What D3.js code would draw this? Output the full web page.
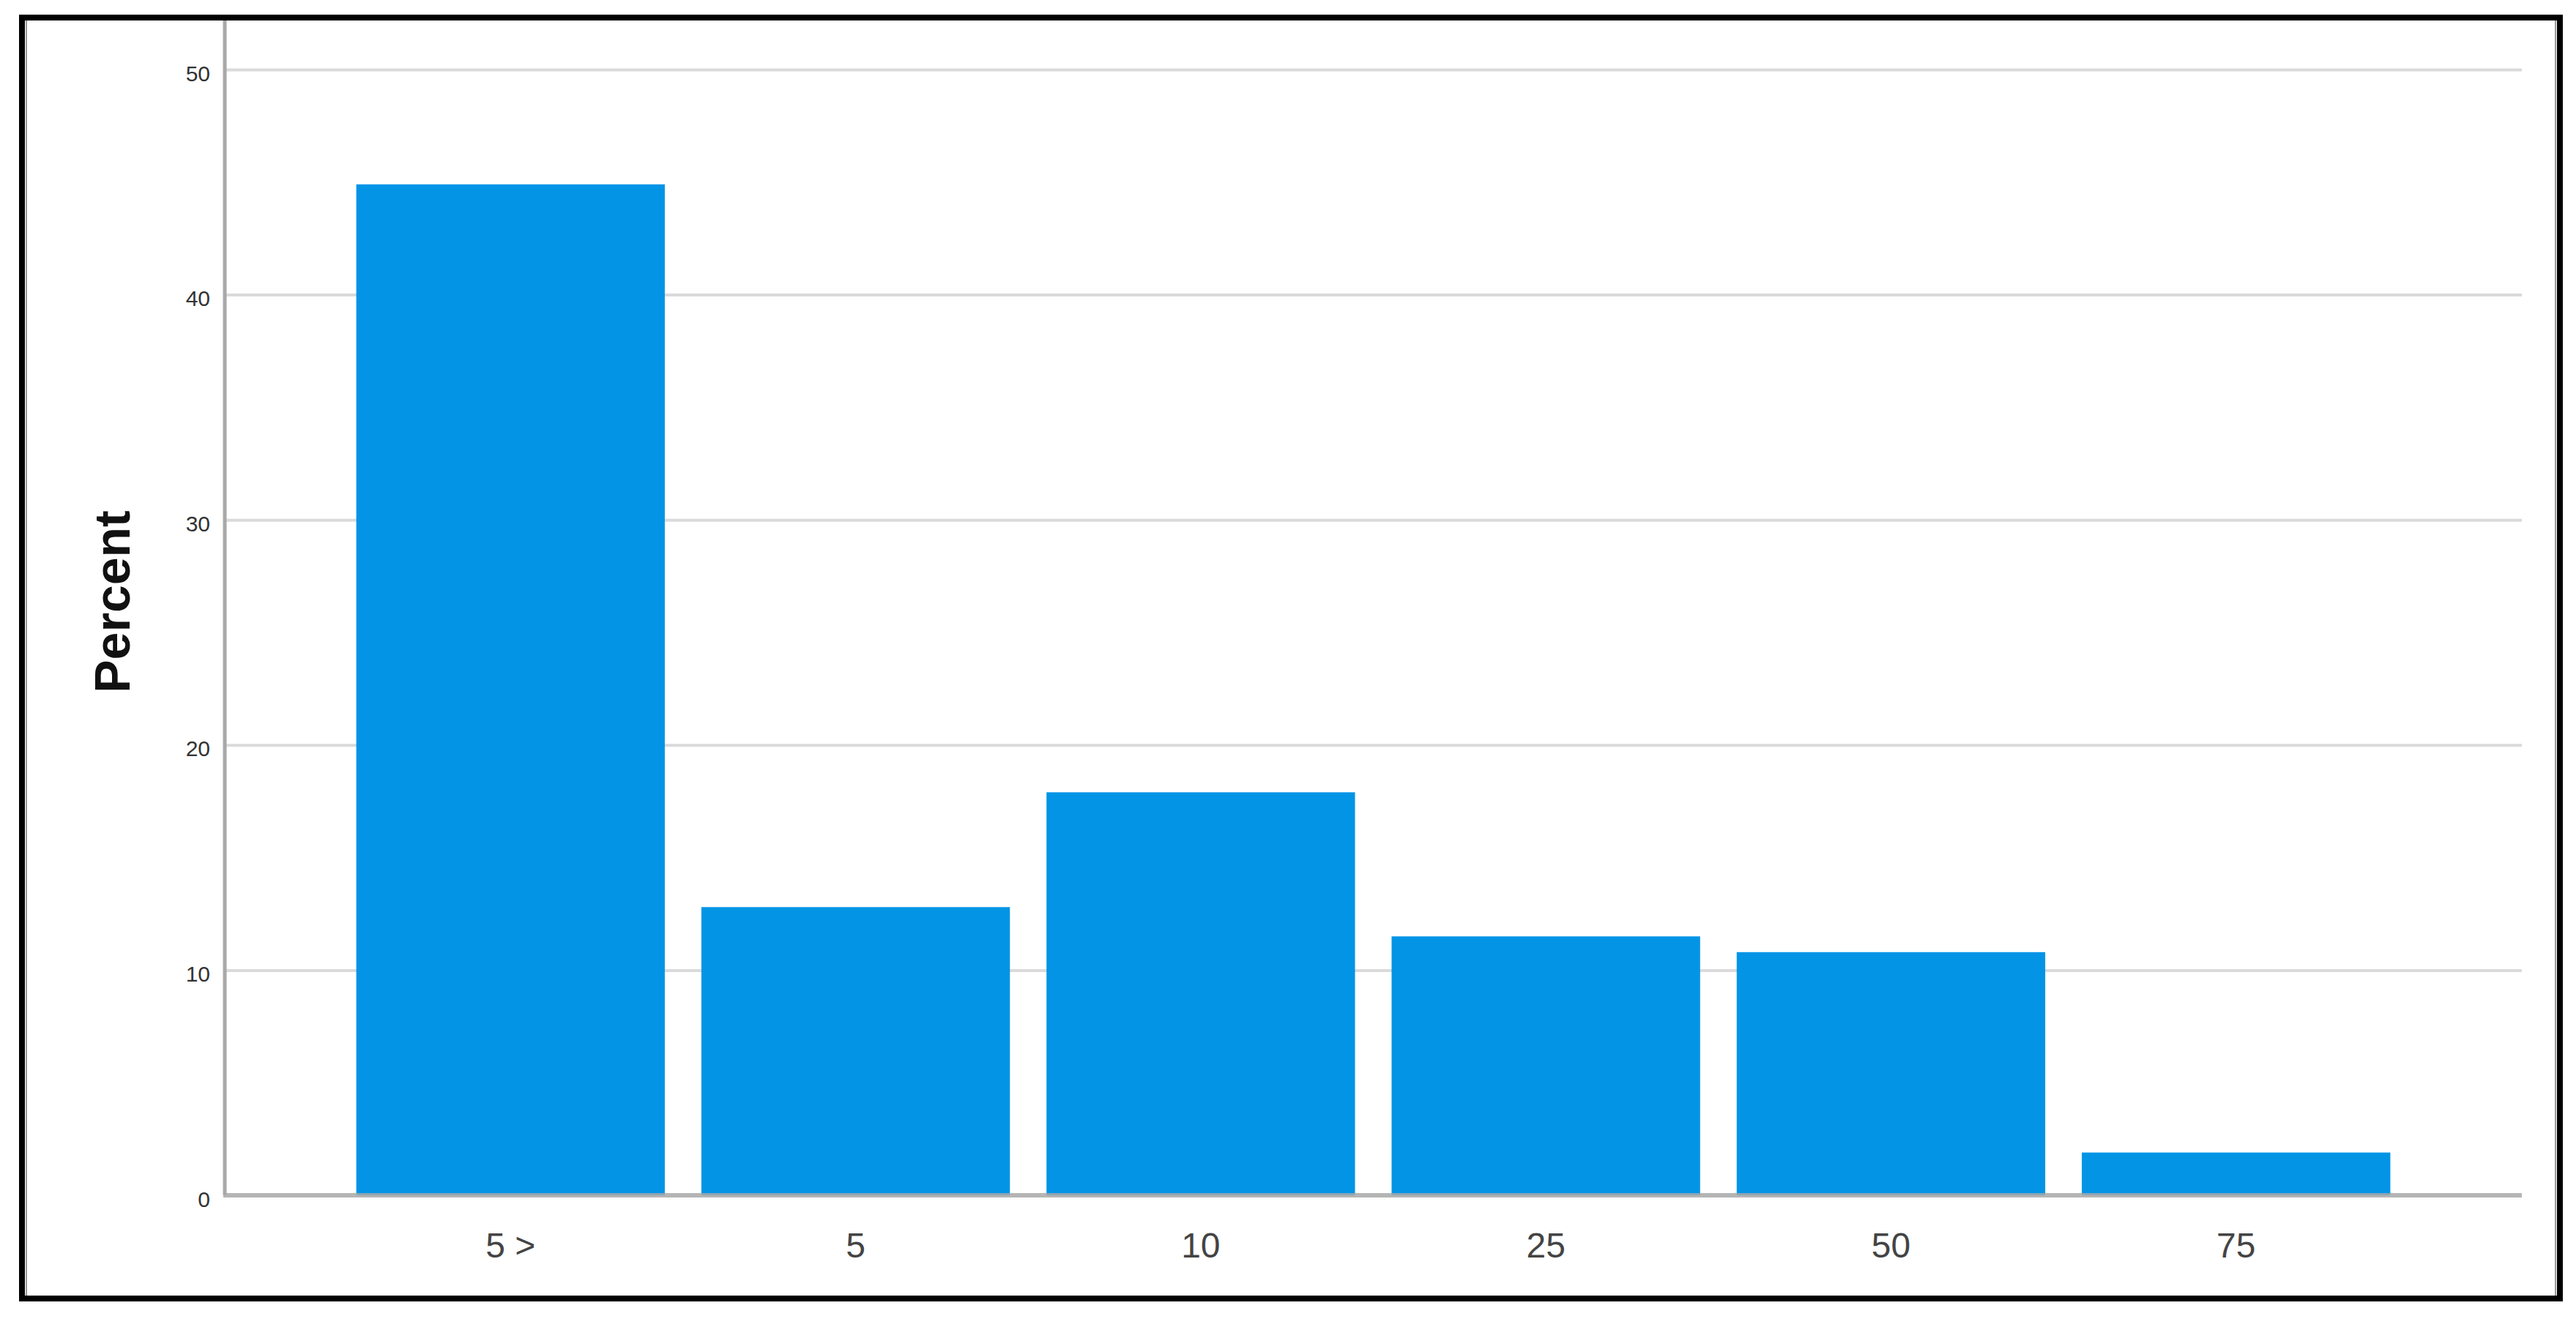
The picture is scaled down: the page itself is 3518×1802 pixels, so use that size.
<!DOCTYPE html>
<html lang="en">
<head>
    <meta charset="UTF-8">
    <title>percent-bars</title>
    <style>
        body {
            margin: 0;
            background: #fff;
        }
        text {
            font-family: "Liberation Sans", Arial, sans-serif;
        }
    </style>
    <script src="https://cdn.jsdelivr.net/npm/d3@7"></script>
</head>
<body>

<script>

    // values
    let categories = ["5 >", "5", "10", "25", "50", "75"];
    let percents = [44.9, 12.8, 17.9, 11.5, 10.8, 1.9];
    let yTicks = [0, 10, 20, 30, 40, 50];
    let yTitle = "Percent";

    let width = 3518;
    let height = 1802;
    let plotLeft = 307, plotRight = 3444, plotTop = 95, plotBottom = 1633;
    let frameTop = 27;

    let barColor = "#0394e6";
    let gridColor = "#dadada";
    let axisColor = "#a8a8a8";

    let svg = d3.select("body").append("svg")
        .attr("width", width)
        .attr("height", height);

    svg.append("rect")
        .attr("width", width)
        .attr("height", height)
        .attr("fill", "#fff");

    let x = d3.scaleBand()
        .domain(categories)
        .range([plotLeft, plotRight])
        .paddingInner(0.106)
        .paddingOuter(0.381);

    let y = d3.scaleLinear()
        .domain([0, 50])
        .range([plotBottom, plotTop]);

    // gridlines behind the bars
    svg.append("g")
        .attr("transform", "translate(" + plotLeft + ",0)")
        .call(d3.axisLeft(y).tickValues(yTicks.slice(1)).tickSize(-(plotRight - plotLeft)).tickFormat(""))
        .call(g => g.select(".domain").remove())
        .selectAll("line")
        .attr("stroke", gridColor)
        .attr("stroke-width", 4);

    // bars
    svg.append("g")
        .selectAll("rect")
        .data(percents)
        .join("rect")
        .attr("x", (d, i) => x(categories[i]))
        .attr("y", d => y(d))
        .attr("width", x.bandwidth())
        .attr("height", d => y(0) - y(d))
        .attr("fill", barColor);

    // y axis line, runs up to the frame
    svg.append("line")
        .attr("x1", plotLeft).attr("x2", plotLeft)
        .attr("y1", frameTop).attr("y2", plotBottom)
        .attr("stroke", axisColor)
        .attr("stroke-width", 5);

    // base line
    svg.append("line")
        .attr("x1", plotLeft - 2).attr("x2", plotRight)
        .attr("y1", plotBottom).attr("y2", plotBottom)
        .attr("stroke", axisColor)
        .attr("stroke-opacity", 0.85)
        .attr("stroke-width", 6);

    // y tick labels
    let yAxis = svg.append("g")
        .attr("transform", "translate(" + plotLeft + ",0)")
        .call(d3.axisLeft(y).tickValues(yTicks).tickSize(0).tickPadding(20));
    yAxis.select(".domain").remove();
    yAxis.selectAll("text")
        .attr("dy", "0.5em")
        .style("font-size", "30px")
        .style("font-family", "'Liberation Sans', Arial, sans-serif")
        .attr("fill", "#333");

    // x tick labels
    let xAxis = svg.append("g")
        .attr("transform", "translate(0," + plotBottom + ")")
        .call(d3.axisBottom(x).tickSize(0).tickPadding(51));
    xAxis.select(".domain").remove();
    xAxis.selectAll("text")
        .style("font-size", "48px")
        .style("font-family", "'Liberation Sans', Arial, sans-serif")
        .attr("fill", "#444");

    // axis title
    svg.append("text")
        .attr("transform", "translate(177," + 822 + ") rotate(-90)")
        .attr("text-anchor", "middle")
        .style("font-size", "68px")
        .style("font-weight", "bold")
        .attr("fill", "#111")
        .text(yTitle);

    // outer frame
    svg.append("rect")
        .attr("x", 30)
        .attr("y", 24)
        .attr("width", 3466)
        .attr("height", 1750)
        .attr("fill", "none")
        .attr("stroke", "#000")
        .attr("stroke-width", 8);

    // faint inner edge next to the frame
    svg.append("line")
        .attr("x1", 36).attr("x2", 36).attr("y1", 28).attr("y2", 1770)
        .attr("stroke", "#999").attr("stroke-width", 2);
    svg.append("line")
        .attr("x1", 3490).attr("x2", 3490).attr("y1", 28).attr("y2", 1770)
        .attr("stroke", "#999").attr("stroke-width", 2);

</script>

</body>
</html>
